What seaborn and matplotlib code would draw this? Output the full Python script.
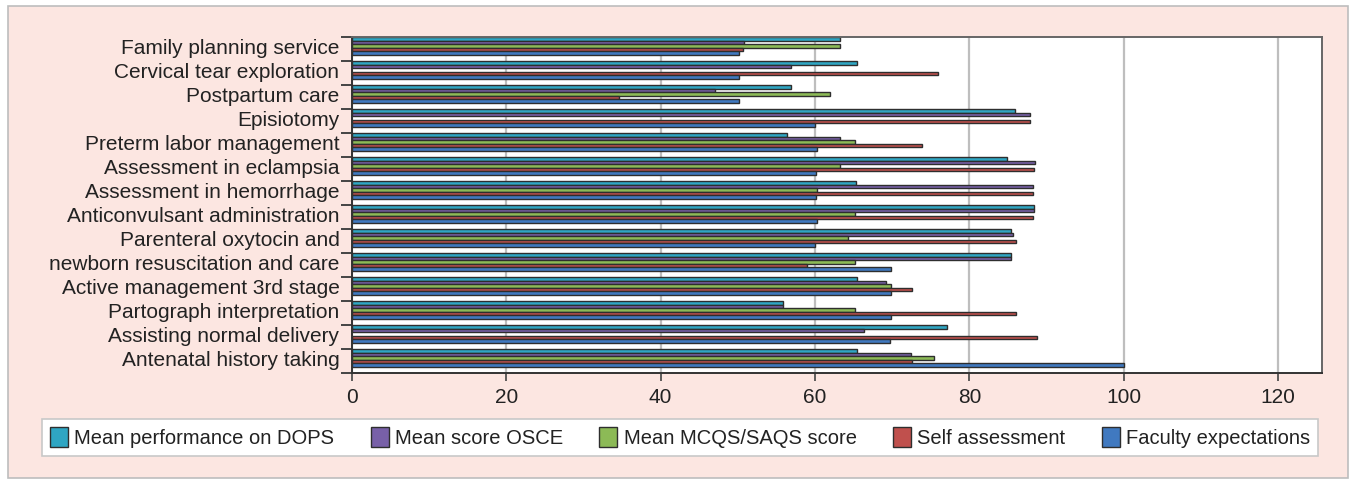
import numpy as np
import pandas as pd
import matplotlib
matplotlib.use("Agg")
import matplotlib.pyplot as plt
import seaborn as sns
from matplotlib.patches import Rectangle

# %%
# Values (NaN = no bar drawn)
categories = [
    "Family planning service",
    "Cervical tear exploration",
    "Postpartum care",
    "Episiotomy",
    "Preterm labor management",
    "Assessment in eclampsia",
    "Assessment in hemorrhage",
    "Anticonvulsant administration",
    "Parenteral oxytocin and",
    "newborn resuscitation and care",
    "Active management 3rd stage",
    "Partograph interpretation",
    "Assisting normal delivery",
    "Antenatal history taking",
]
series = [
    "Mean performance on DOPS",
    "Mean score OSCE",
    "Mean MCQS/SAQS score",
    "Self assessment",
    "Faculty expectations",
]
dops = [63.3, 65.4, 56.9, 85.9, 56.4, 84.9, 65.3, 88.4, 85.4, 85.4, 65.5, 55.8, 77.1, 65.5]
osce = [50.8, 56.9, 47.1, 87.8, 63.3, 88.5, 88.3, 88.4, 85.7, 85.4, 69.2, 55.8, 66.3, 72.5]
mcqs = [63.3, np.nan, 62.0, np.nan, 65.2, 63.3, 60.2, 65.2, 64.3, 65.2, 69.9, 65.2, np.nan, 75.4]
self_assess = [50.7, 76.0, 34.6, 87.8, 73.9, 88.4, 88.3, 88.3, 86.0, 59.0, 72.6, 86.0, 88.8, 72.6]
faculty = [50.2, 50.2, 50.2, 60.0, 60.2, 60.1, 60.1, 60.2, 60.0, 69.8, 69.8, 69.8, 69.7, 100.0]
x_ticks = [0, 20, 40, 60, 80, 100, 120]

colors = ["#2FA6C3", "#7860A8", "#8CBA56", "#C0504D", "#4079C0"]

# %%
df = pd.DataFrame({"category": categories, series[0]: dops, series[1]: osce,
                   series[2]: mcqs, series[3]: self_assess, series[4]: faculty})
long_df = df.melt(id_vars="category", var_name="series", value_name="value").dropna()

pink = "#FCE6E1"
fig = plt.figure(figsize=(13.56, 4.83), dpi=100)
fig.patch.set_facecolor("white")
# pink panel with a thin gray frame, as in the reference
fig.patches.append(Rectangle((8 / 1356, 5 / 483), 1340 / 1356, 472 / 483,
                             transform=fig.transFigure, facecolor=pink,
                             edgecolor="#BDBDBD", linewidth=1.2, zorder=-10))

ax = fig.add_axes([352 / 1356, 1 - 373 / 483, (1322 - 352) / 1356, (373 - 37) / 483])
sns.barplot(data=long_df, y="category", x="value", hue="series", orient="h",
            order=categories, hue_order=series, palette=colors, width=0.72,
            edgecolor="#2E2E2E", linewidth=1.0, saturation=1, errorbar=None,
            ax=ax, legend=True)

ax.set_facecolor("white")
ax.set_xlim(0, 125.7)
ax.set_ylim(13.62, -0.38)
ax.set_xticks(x_ticks)
ax.set_xticklabels([str(t) for t in x_ticks])
ax.xaxis.grid(True, color="#BEBEBE", linewidth=1.6)
ax.set_axisbelow(True)
ax.set_xlabel("")
ax.set_ylabel("")

# labels at bar centres, tick marks at group boundaries
ax.set_yticks(range(len(categories)))
ax.set_yticklabels(categories)
ax.tick_params(axis="y", which="major", length=0, pad=9)
ax.set_yticks(np.arange(len(categories) + 1) - 0.38, minor=True)
ax.tick_params(axis="y", which="minor", length=8, width=1.4, color="#444444")
ax.tick_params(axis="x", length=6, width=1.2, color="#444444", pad=5)
for lab in ax.get_yticklabels() + ax.get_xticklabels():
    lab.set_fontsize(15)
    lab.set_color("#222222")
    lab.set_family("Liberation Sans")

for side in ["left", "bottom"]:
    ax.spines[side].set_color("#333333")
    ax.spines[side].set_linewidth(1.4)
for side in ["top", "right"]:
    ax.spines[side].set_color("#666666")
    ax.spines[side].set_linewidth(1.4)

handles, labels = ax.get_legend_handles_labels()
ax.get_legend().remove()
leg = fig.legend(handles, labels, loc="lower left", ncol=5, mode="expand",
                 bbox_to_anchor=(42 / 1356, 1 - 456 / 483, (1318 - 42) / 1356, 31 / 483),
                 frameon=True, fancybox=False, framealpha=1, borderaxespad=0,
                 handlelength=0.9, handleheight=1.2, handletextpad=0.3,
                 prop={"family": "Liberation Sans", "size": 14.5})
leg.get_frame().set_edgecolor("#C8C8C8")
leg.get_frame().set_linewidth(1.2)
for t in leg.get_texts():
    t.set_color("#222222")

fig.savefig("out.png", dpi=100, facecolor=fig.get_facecolor())
